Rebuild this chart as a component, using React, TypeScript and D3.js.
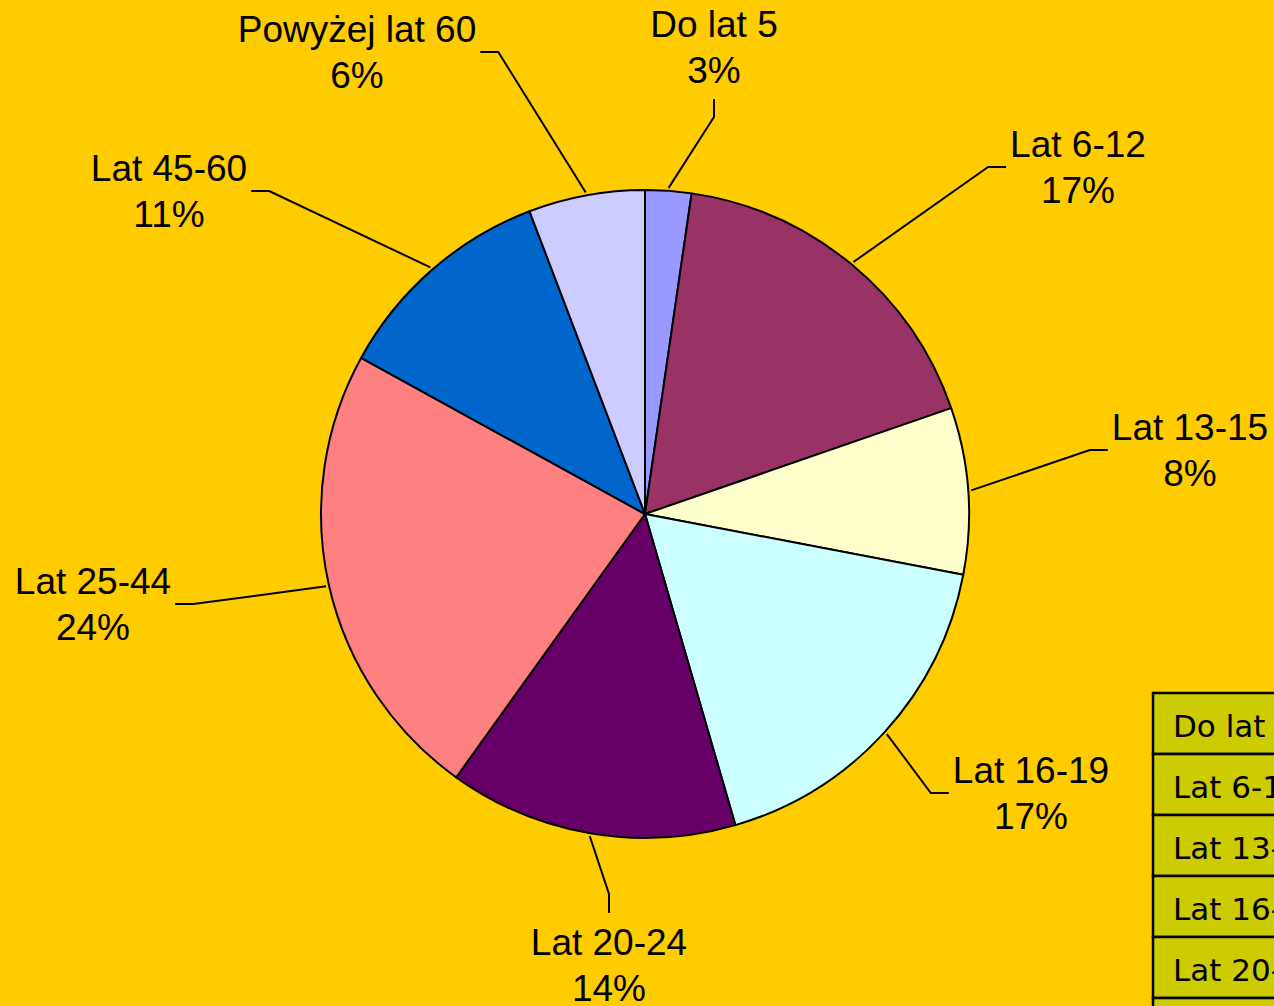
import React, { useEffect, useRef } from 'react';
import * as d3 from 'd3';

const categories = ['Do lat 5', 'Lat 6-12', 'Lat 13-15', 'Lat 16-19', 'Lat 20-24', 'Lat 25-44', 'Lat 45-60', 'Powyżej lat 60'];
const values = [2.3, 17.4, 8.3, 17.5, 14.4, 23.1, 11.2, 5.8];
const percentLabels = ['3%', '17%', '8%', '17%', '14%', '24%', '11%', '6%'];
const colors = ['#9999FF', '#993366', '#FFFFCC', '#CCFFFF', '#660066', '#FF8080', '#0066CC', '#CCCCFF'];

// label layout: center x, first-line baseline, side the leader comes from
const labelLayout: { cx: number; by: number; side: 'top' | 'bottom' | 'left' | 'right' }[] = [
    { cx: 714, by: 37, side: 'top' },
    { cx: 1078, by: 157, side: 'right' },
    { cx: 1190, by: 440, side: 'right' },
    { cx: 1031, by: 783, side: 'right' },
    { cx: 609, by: 955, side: 'bottom' },
    { cx: 93, by: 594, side: 'left' },
    { cx: 169, by: 181, side: 'left' },
    { cx: 357, by: 42, side: 'left' },
];

export default function App() {
    const svgRef = useRef<SVGSVGElement>(null);

    useEffect(() => {
        if (!svgRef.current) return;
        document.body.style.margin = '0';

        const width = 1274;
        const height = 1006;
        const cx = 645;
        const cy = 514;
        const r = 324;
        const lineGap = 46;

        const svg = d3.select(svgRef.current)
            .attr('width', width)
            .attr('height', height)
            .attr('viewBox', `0 0 ${width} ${height}`);
        svg.selectAll('*').remove();

        svg.append('rect').attr('width', width).attr('height', height).attr('fill', '#FFCC00');

        const pie = d3.pie<number>().sort(null).value(d => d);
        const arcs = pie(values);
        const arc = d3.arc<d3.PieArcDatum<number>>().innerRadius(0).outerRadius(r);

        const g = svg.append('g').attr('transform', `translate(${cx},${cy})`);
        g.selectAll('path.slice')
            .data(arcs)
            .enter()
            .append('path')
            .attr('class', 'slice')
            .attr('d', arc)
            .attr('fill', (_, i) => colors[i])
            .attr('stroke', '#000')
            .attr('stroke-width', 2)
            .attr('stroke-linejoin', 'round');

        // Labels
        const labels = svg.append('g')
            .attr('font-family', 'Arial, "Liberation Sans", sans-serif')
            .attr('font-size', '37px')
            .attr('fill', '#000')
            .attr('text-anchor', 'middle');

        arcs.forEach((a, i) => {
            const lay = labelLayout[i];
            const t1 = labels.append('text').attr('x', lay.cx).attr('y', lay.by).text(categories[i]);
            const t2 = labels.append('text').attr('x', lay.cx).attr('y', lay.by + lineGap).text(percentLabels[i]);
            const w = Math.max((t1.node() as SVGTextElement).getComputedTextLength(), (t2.node() as SVGTextElement).getComputedTextLength());

            const mid = (a.startAngle + a.endAngle) / 2;
            const startR = r + 3;
            const sx = cx + startR * Math.sin(mid);
            const sy = cy - startR * Math.cos(mid);

            let elbow: [number, number];
            let end: [number, number];
            const midY = lay.by + (lineGap - 26) / 2;
            if (lay.side === 'right') {
                end = [lay.cx - w / 2 - 4, midY];
                elbow = [end[0] - 18, midY];
            } else if (lay.side === 'left') {
                end = [lay.cx + w / 2 + 4, midY];
                elbow = [end[0] + 18, midY];
            } else if (lay.side === 'top') {
                end = [lay.cx, lay.by + lineGap + 16];
                elbow = [lay.cx, end[1] + 18];
            } else {
                end = [lay.cx, lay.by - 42];
                elbow = [lay.cx, end[1] - 19];
            }

            svg.append('path')
                .attr('d', d3.line()([[sx, sy], elbow, end]))
                .attr('fill', 'none')
                .attr('stroke', '#000')
                .attr('stroke-width', 2);
        });

        // Legend table (partly off the right edge)
        const legX = 1153;
        const legY = 693;
        const rowH = 61;
        const legend = svg.append('g');
        categories.forEach((c, i) => {
            legend.append('rect')
                .attr('x', legX)
                .attr('y', legY + i * rowH)
                .attr('width', 300)
                .attr('height', rowH)
                .attr('fill', '#CCCC00')
                .attr('stroke', '#000')
                .attr('stroke-width', 2.5);
            legend.append('text')
                .attr('x', legX + 20)
                .attr('y', legY + i * rowH + 44)
                .attr('font-family', 'Tahoma, "DejaVu Sans", sans-serif')
                .attr('font-size', '31px')
                .attr('fill', '#000')
                .text(c);
        });
    }, []);

    return <svg ref={svgRef} style={{ display: 'block' }} />;
}
